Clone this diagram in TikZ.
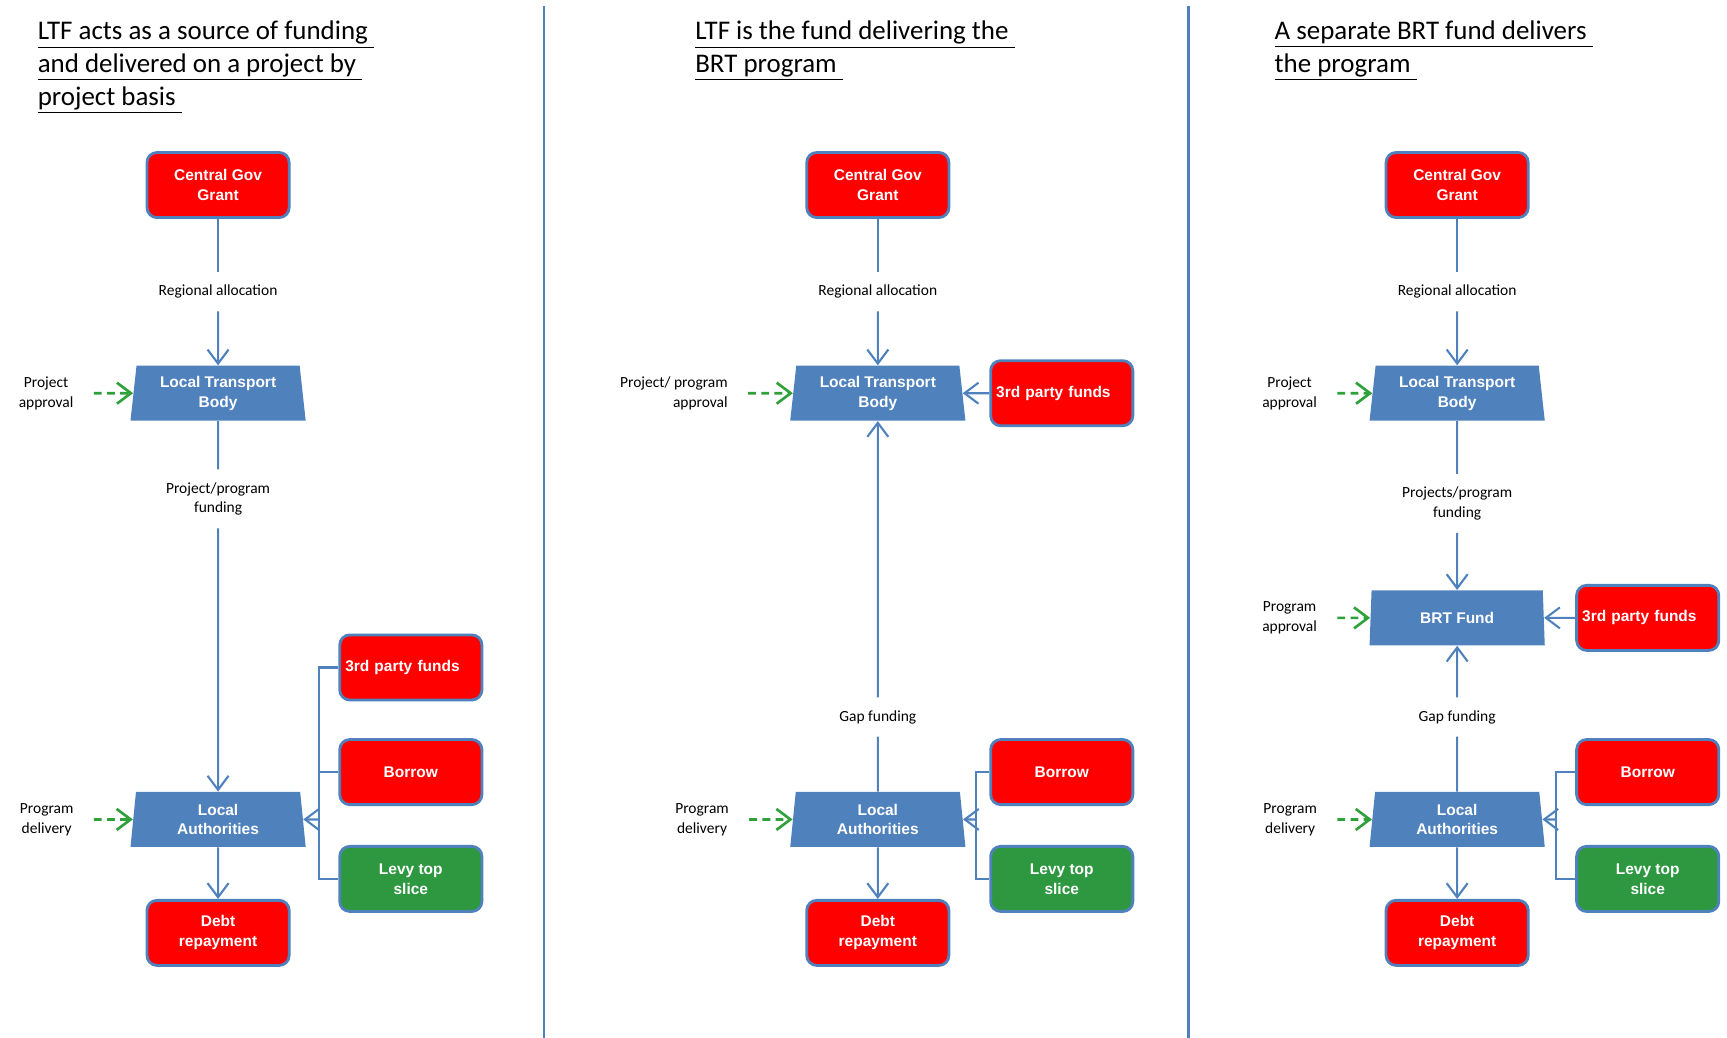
\documentclass[tikz,border=0pt]{standalone}
\usepackage{fontspec}
\setmainfont{Carlito}
\newfontfamily\arialfont{Liberation Sans}
\usetikzlibrary{shapes.geometric,arrows.meta}

\definecolor{ofblue}{RGB}{79,129,189}
\definecolor{srcred}{RGB}{255,0,0}
\definecolor{levygreen}{RGB}{46,152,64}
\definecolor{okgreen}{RGB}{48,160,58}

\tikzset{
  fund/.style = {rectangle, rounded corners=0.2cm, draw=ofblue, line width=1.6pt, fill=srcred, text=white,
                 font=\arialfont\bfseries\fontsize{8.8}{11.3}\selectfont, align=center,
                 minimum width=2.84cm, minimum height=1.3cm, inner sep=0},
  levy/.style = {fund, fill=levygreen},
  body/.style = {trapezium, trapezium left angle=80, trapezium right angle=80, trapezium stretches body,
                 fill=ofblue, text=white, font=\arialfont\bfseries\fontsize{8.8}{11.3}\selectfont, align=center,
                 minimum width=3.5cm, minimum height=1.1cm, inner sep=0},
  flowlabel/.style = {font=\fontsize{8.8}{11.3}\selectfont, align=center, inner xsep=0, inner ysep=0.25cm},
  sidelabel/.style = {font=\fontsize{8.8}{11.3}\selectfont, align=center, inner sep=0, anchor=east},
  heading/.style = {font=\fontsize{15.3}{18.5}\selectfont, align=left, anchor=north west, inner sep=0},
  flow/.style = {draw=ofblue, line width=1.2pt},
  flowarrow/.style = {flow, -{Straight Barb[length=0.28cm, width=0.42cm]}},
  approval/.style = {draw=okgreen, line width=1.5pt, dash pattern=on 4.5pt off 3pt, shorten <=0.4cm,
                     -{Straight Barb[length=0.28cm, width=0.42cm]}},
  divider/.style = {draw=ofblue, line width=1.5pt}
}

\begin{document}
\begin{tikzpicture}[x=0.022cm, y=-0.022cm]
  \useasboundingbox (0,0) rectangle (1568,942);

  \draw[divider] (494,5) -- (494,942);
  \draw[divider] (1079,5) -- (1079,942);

  % project by project
  \node[heading] (t1) at (34,19) {\underline{LTF acts as a source of funding\ }\\\underline{and delivered on a project by\ }\\\underline{project basis\ }};

  \node[fund]      (cg1) at (198,168) {Central Gov\\Grant};
  \node[flowlabel] (ra1) at (198,265) {Regional allocation};
  \node[body]      (ltb1) at (198,357) {Local Transport\\Body};
  \node[flowlabel] (pf1) at (198,453) {Project/program\\funding};
  \node[body]      (la1) at (198,744) {Local\\Authorities};
  \node[fund]      (dr1) at (198,847) {Debt\\repayment};
  \node[fund, align=left, text width=2.62cm] (tp1) at (373,606) {3rd party funds};
  \node[fund]      (bw1) at (373,701) {Borrow};
  \node[levy]      (lv1) at (373,798) {Levy top\\slice};
  \node[sidelabel] (pa1) at (67,357) {Project\\approval};
  \node[sidelabel] (pd1) at (67,744) {Program\\delivery};
  \coordinate (br1) at (290,744);

  \draw[flow]      (cg1) -- (ra1);
  \draw[flowarrow] (ra1) -- (ltb1);
  \draw[flow]      (ltb1) -- (pf1);
  \draw[flowarrow] (pf1) -- (la1);
  \draw[flowarrow] (la1) -- (dr1);
  \draw[flow]      (tp1.west) -- (tp1.west -| br1) -- (lv1.west -| br1) -- (lv1.west);
  \draw[flow]      (bw1.west) -- (bw1.west -| br1);
  \draw[flowarrow] (br1) -- (la1);
  \draw[approval]  (pa1) -- (ltb1);
  \draw[approval]  (pd1) -- (la1);

  % LTF delivers the program
  \node[heading] (t2) at (631,19) {\underline{LTF is the fund delivering the\ }\\\underline{BRT program\ }};

  \node[fund]      (cg2) at (797,168) {Central Gov\\Grant};
  \node[flowlabel] (ra2) at (797,265) {Regional allocation};
  \node[body]      (ltb2) at (797,357) {Local Transport\\Body};
  \node[fund, align=left, text width=2.62cm] (tp2) at (964,357) {3rd party funds};
  \node[flowlabel] (gf2) at (797,651) {Gap funding};
  \node[body]      (la2) at (797,744) {Local\\Authorities};
  \node[fund]      (dr2) at (797,847) {Debt\\repayment};
  \node[fund]      (bw2) at (964,701) {Borrow};
  \node[levy]      (lv2) at (964,798) {Levy top\\slice};
  \node[sidelabel, align=right] (pa2) at (661,357) {Project/ program\\approval};
  \node[sidelabel] (pd2) at (662,744) {Program\\delivery};
  \coordinate (br2) at (886,744);

  \draw[flow]      (cg2) -- (ra2);
  \draw[flowarrow] (ra2) -- (ltb2);
  \draw[flowarrow] (tp2) -- (ltb2);
  \draw[flow]      (la2) -- (gf2);
  \draw[flowarrow] (gf2) -- (ltb2);
  \draw[flowarrow] (la2) -- (dr2);
  \draw[flow]      (bw2.west) -- (bw2.west -| br2) -- (lv2.west -| br2) -- (lv2.west);
  \draw[flowarrow] (br2) -- (la2);
  \draw[approval]  (pa2) -- (ltb2);
  \draw[approval]  (pd2) -- (la2);

  % separate BRT fund
  \node[heading] (t3) at (1157,19) {\underline{A separate BRT fund delivers\ }\\\underline{the program\ }};

  \node[fund]      (cg3) at (1323,168) {Central Gov\\Grant};
  \node[flowlabel] (ra3) at (1323,265) {Regional allocation};
  \node[body]      (ltb3) at (1323,357) {Local Transport\\Body};
  \node[flowlabel] (pf3) at (1323,457) {Projects/program\\funding};
  \node[body]      (brt3) at (1323,561) {BRT Fund};
  \node[fund, align=left, text width=2.62cm] (tp3) at (1496,561) {3rd party funds};
  \node[flowlabel] (gf3) at (1323,651) {Gap funding};
  \node[body]      (la3) at (1323,744) {Local\\Authorities};
  \node[fund]      (dr3) at (1323,847) {Debt\\repayment};
  \node[fund]      (bw3) at (1496,701) {Borrow};
  \node[levy]      (lv3) at (1496,798) {Levy top\\slice};
  \node[sidelabel] (pa3) at (1196,357) {Project\\approval};
  \node[sidelabel] (pb3) at (1196,561) {Program\\approval};
  \node[sidelabel] (pd3) at (1196,744) {Program\\delivery};
  \coordinate (br3) at (1413,744);

  \draw[flow]      (cg3) -- (ra3);
  \draw[flowarrow] (ra3) -- (ltb3);
  \draw[flow]      (ltb3) -- (pf3);
  \draw[flowarrow] (pf3) -- (brt3);
  \draw[flowarrow] (tp3) -- (brt3);
  \draw[flow]      (la3) -- (gf3);
  \draw[flowarrow] (gf3) -- (brt3);
  \draw[flowarrow] (la3) -- (dr3);
  \draw[flow]      (bw3.west) -- (bw3.west -| br3) -- (lv3.west -| br3) -- (lv3.west);
  \draw[flowarrow] (br3) -- (la3);
  \draw[approval]  (pa3) -- (ltb3);
  \draw[approval]  (pb3) -- (brt3);
  \draw[approval]  (pd3) -- (la3);
\end{tikzpicture}
\end{document}
